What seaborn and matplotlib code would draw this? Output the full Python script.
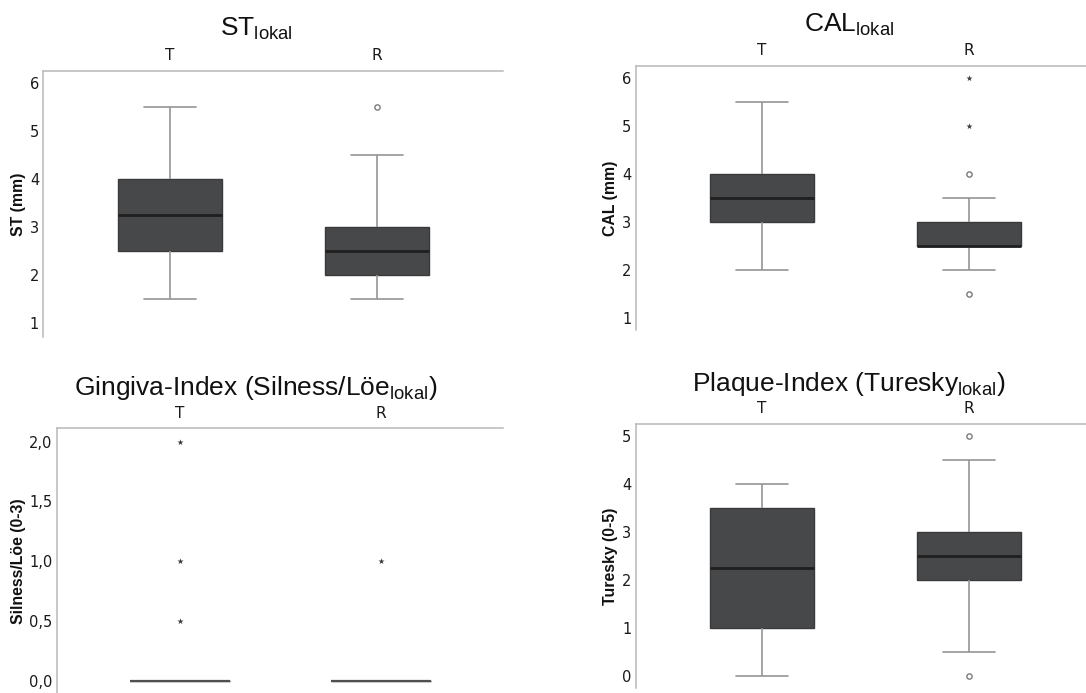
import numpy as np
import pandas as pd
import matplotlib
matplotlib.use("Agg")
import matplotlib.pyplot as plt
from matplotlib.ticker import FuncFormatter
import seaborn as sns

# ---------------- data ----------------
groups = ["T", "R"]

# ST lokal (mm)
st_T_core = [1.5, 2.5, 2.5, 3.0, 3.25, 3.5, 4.0, 4.0, 5.5]
st_R_core = [1.5, 2.0, 2.0, 2.5, 2.5, 3.0, 3.0, 4.5]
st_T_mild, st_R_mild = [], [5.5]
st_T_ext, st_R_ext = [], []

# CAL lokal (mm)
cal_T_core = [2.0, 3.0, 3.0, 3.25, 3.5, 3.75, 4.0, 4.5, 5.5]
cal_R_core = [2.0, 2.5, 2.5, 2.5, 2.5, 2.5, 2.5, 2.5, 3.0, 3.0, 3.0, 3.0, 3.5]
cal_T_mild, cal_R_mild = [], [1.5, 4.0]
cal_T_ext, cal_R_ext = [], [5.0, 6.0]

# Gingiva-Index (Silness/Loe, 0-3)
gi_T_core = [0.0] * 12
gi_R_core = [0.0] * 12
gi_T_mild, gi_R_mild = [], []
gi_T_ext, gi_R_ext = [0.5, 1.0, 2.0], [1.0]

# Plaque-Index (Turesky, 0-5)
pi_T_core = [0.0, 1.0, 1.0, 2.0, 2.25, 2.5, 3.5, 3.5, 4.0]
pi_R_core = [0.5, 2.0, 2.0, 2.0, 2.5, 2.5, 2.5, 3.0, 3.0, 3.0, 4.5]
pi_T_mild, pi_R_mild = [], [0.0, 5.0]
pi_T_ext, pi_R_ext = [], []

titles = [r"ST$_\mathregular{lokal}$", r"CAL$_\mathregular{lokal}$",
          r"Gingiva-Index (Silness/Löe$_\mathregular{lokal}$)",
          r"Plaque-Index (Turesky$_\mathregular{lokal}$)"]
ylabels = ["ST (mm)", "CAL (mm)", "Silness/Löe (0-3)", "Turesky (0-5)"]
yticks_list = [[1, 2, 3, 4, 5, 6], [1, 2, 3, 4, 5, 6],
               [0.0, 0.5, 1.0, 1.5, 2.0], [0, 1, 2, 3, 4, 5]]

# ---------------- style ----------------
BOX = "#47484a"
EDGE = "#3a3a3c"
WH = "#959595"
MED = "#1f1f1f"
SPINE = "#b8b8b8"

sns.set_style("white")
plt.rcParams["font.family"] = ["DejaVu Sans"]
plt.rcParams["mathtext.fontset"] = "dejavusans"

W, H = 1086, 693
fig = plt.figure(figsize=(W / 100, H / 100), dpi=100)
fig.patch.set_facecolor("white")


def px_axes(left, right, top, bottom):
    return fig.add_axes([left / W, 1 - bottom / H, (right - left) / W, (bottom - top) / H])


axes = [
    px_axes(43.3, 503, 71, 336.7),
    px_axes(635.7, 1095, 66, 330),
    px_axes(56.7, 503, 428.3, 697),
    px_axes(635.7, 1095, 424, 687.7),
]
ylims = [(0.715, 6.25), (0.75, 6.25), (-0.136, 2.112), (-0.234, 5.26)]
xlims = [(-0.612, 1.609), (-0.61, 1.609), (-0.613, 1.607), (-0.61, 1.609)]

panels = [
    ({"T": st_T_core, "R": st_R_core}, {"T": st_T_mild, "R": st_R_mild}, {"T": st_T_ext, "R": st_R_ext}),
    ({"T": cal_T_core, "R": cal_R_core}, {"T": cal_T_mild, "R": cal_R_mild}, {"T": cal_T_ext, "R": cal_R_ext}),
    ({"T": gi_T_core, "R": gi_R_core}, {"T": gi_T_mild, "R": gi_R_mild}, {"T": gi_T_ext, "R": gi_R_ext}),
    ({"T": pi_T_core, "R": pi_R_core}, {"T": pi_T_mild, "R": pi_R_mild}, {"T": pi_T_ext, "R": pi_R_ext}),
]

for i, (ax, (core, mild, ext)) in enumerate(zip(axes, panels)):
    rows = []
    for g in groups:
        for v in list(core[g]) + list(mild[g]) + list(ext[g]):
            rows.append((g, v))
    df = pd.DataFrame(rows, columns=["group", "value"])
    med_color = "#505050" if i == 2 else MED
    med_lw = 1.6 if i == 2 else 2.0
    sns.boxplot(data=df, x="group", y="value", order=groups, ax=ax,
                width=0.5, color=BOX, saturation=1, showfliers=False, whis=1.5,
                boxprops=dict(facecolor=BOX, edgecolor=EDGE, linewidth=1.0),
                whiskerprops=dict(color=WH, linewidth=1.2),
                capprops=dict(color=WH, linewidth=1.2),
                medianprops=dict(color=med_color, linewidth=med_lw))

    mg = [g for g in groups for _ in mild[g]]
    mv = [v for g in groups for v in mild[g]]
    if mv:
        sns.stripplot(x=mg, y=mv, order=groups, ax=ax, jitter=False, marker="o",
                      size=3.8, color="white", edgecolor="#7a7a7a", linewidth=1.0, zorder=5)
    eg = [g for g in groups for _ in ext[g]]
    ev = [v for g in groups for v in ext[g]]
    if ev:
        sns.stripplot(x=eg, y=ev, order=groups, ax=ax, jitter=False, marker="*",
                      size=4.6, color="#3a3a3a", linewidth=0, zorder=5)

    ax.set_xlim(*xlims[i])
    ax.set_ylim(*ylims[i])
    ax.set_yticks(yticks_list[i])
    if i == 2:
        ax.yaxis.set_major_formatter(FuncFormatter(lambda v, p: f"{v:.1f}".replace(".", ",")))
    ax.xaxis.tick_top()
    ax.set_xlabel("")
    ax.set_ylabel("")
    ax.tick_params(axis="both", length=0, colors="#1a1a1a")
    ax.tick_params(axis="x", pad=5.5, labelsize=11)
    ax.tick_params(axis="y", pad=3, labelsize=10.5)
    for s in ["bottom", "right"]:
        ax.spines[s].set_visible(False)
    for s in ["top", "left"]:
        ax.spines[s].set_visible(True)
        ax.spines[s].set_color(SPINE)
        ax.spines[s].set_linewidth(1.1)
    ax.grid(False)

# titles
title_pos = [(256, 36), (849, 32), (256, 395), (849, 391)]
for t, (x, y) in zip(titles, title_pos):
    fig.text(x / W, 1 - y / H, t, ha="center", va="baseline", fontsize=19,
             family="Liberation Sans", color="#111111")

# y labels
ylab_pos = [(19, 204), (610.5, 198), (18.5, 561), (610, 556)]
for t, (x, y) in zip(ylabels, ylab_pos):
    fig.text(x / W, 1 - y / H, t, rotation=90, ha="center", va="center", fontsize=11.4,
             fontweight="bold", family="Liberation Sans", color="#111111")

fig.savefig("out.png", dpi=100, facecolor="white")
